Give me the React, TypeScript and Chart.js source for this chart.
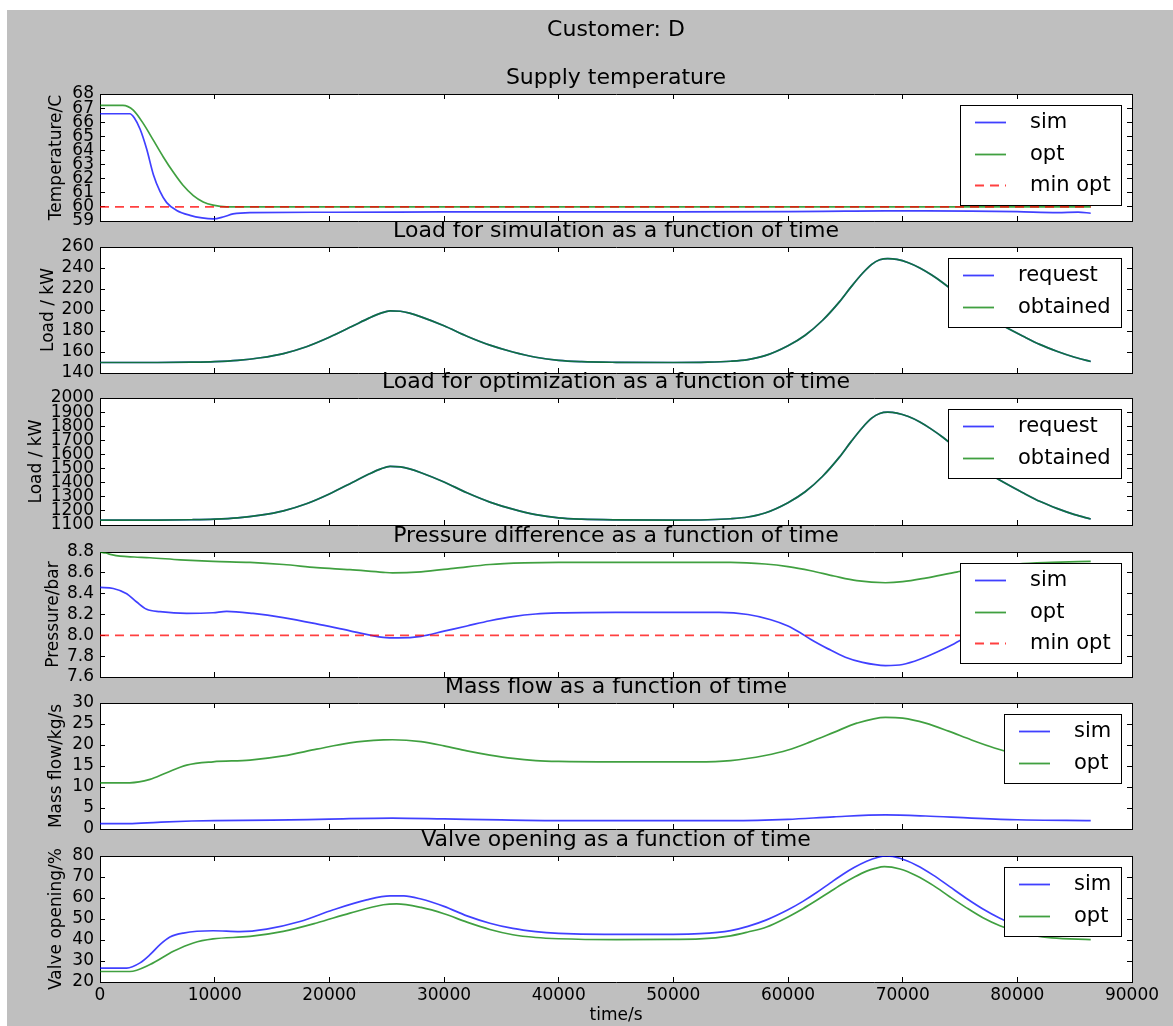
import React, { useEffect, useRef } from "react";
import { Chart, registerables } from "chart.js";

Chart.register(...registerables);

const FONT = "'DejaVu Sans', 'Bitstream Vera Sans', sans-serif";
const BLUE = "rgba(0, 0, 255, 0.75)";
const GREEN = "rgba(0, 128, 0, 0.75)";
const RED = "rgba(255, 0, 0, 0.75)";

// Shared time axis (seconds)
const timeTicks = [0, 10000, 20000, 30000, 40000, 50000, 60000, 70000, 80000, 90000];

// Supply temperature
const tempTicks = [59, 60, 61, 62, 63, 64, 65, 66, 67, 68];
const tempSimTime = [0, 2600, 3000, 3500, 4070, 4650, 5230, 5815, 6690, 7850, 8900, 9860, 10800, 11600, 13080, 20000, 30000, 40000, 50000, 60000, 65000, 68500, 72000, 76000, 80000, 83500, 85300, 86400];
const tempSim = [66.6, 66.6, 66.3, 65.5, 64.1, 62.3, 61.1, 60.3, 59.75, 59.4, 59.22, 59.15, 59.3, 59.5, 59.6, 59.62, 59.64, 59.65, 59.65, 59.66, 59.7, 59.72, 59.72, 59.7, 59.66, 59.6, 59.63, 59.55];
const tempOptTime = [0, 2000, 2900, 3780, 4650, 5520, 6400, 7220, 8140, 9000, 9860, 11050, 86400];
const tempOpt = [67.2, 67.2, 66.86, 65.9, 64.73, 63.54, 62.45, 61.55, 60.8, 60.35, 60.12, 60.0, 60.0];
const tempMinTime = [0, 86400];
const tempMin = [60, 60];

// Load profiles (simulation and optimization share the same time grid)
const loadTime = [0, 5000, 8000, 10000, 12000, 14000, 16000, 18000, 20000, 22000, 23500, 24500, 25300, 26200, 27000, 28000, 30000, 32000, 34000, 36000, 38000, 40000, 42000, 45000, 50000, 53000, 55000, 56500, 58000, 60000, 61500, 63000, 64500, 65500, 66500, 67300, 68000, 68700, 69500, 70500, 71500, 72500, 73500, 74500, 75500, 76500, 77500, 79000, 80500, 82000, 83500, 85000, 86400];
const loadSimTicks = [140, 160, 180, 200, 220, 240, 260];
const loadSimRequest = [150, 150, 150.3, 150.8, 152, 154.5, 158.5, 165, 174, 184.5, 192.5, 197, 199.2, 198.8, 197, 193.5, 185, 175, 166.5, 160, 155, 152, 150.8, 150.2, 150, 150.3, 151.2, 152.8, 156.5, 166, 176, 190, 208, 222, 235, 243.5, 247.8, 249, 248.2, 245, 240, 233.5, 226, 217.5, 209, 200.5, 193, 183.5, 175, 167, 160.5, 155, 151];
const loadSimObtained = [150, 150, 150.3, 150.8, 152, 154.5, 158.5, 165, 174, 184.5, 192.5, 197, 199.2, 198.8, 197, 193.5, 185, 175, 166.5, 160, 155, 152, 150.8, 150.2, 150, 150.3, 151.2, 152.8, 156.5, 166, 176, 190, 208, 222, 235, 243.5, 247.8, 249, 248.2, 245, 240, 233.5, 226, 217.5, 209, 200.5, 193, 183.5, 175, 167, 160.5, 155, 151];
const loadOptTicks = [1100, 1200, 1300, 1400, 1500, 1600, 1700, 1800, 1900, 2000];
const loadOptRequest = [1135, 1135, 1137.3, 1141.2, 1150.4, 1169.7, 1200.6, 1250.8, 1320.3, 1401.3, 1463.1, 1497.8, 1514.8, 1511.7, 1497.8, 1470.8, 1405.2, 1328, 1262.4, 1212.2, 1173.6, 1150.4, 1141.2, 1136.5, 1135, 1137.3, 1144.3, 1156.6, 1185.2, 1258.5, 1335.7, 1443.8, 1582.8, 1690.8, 1791.2, 1856.8, 1890, 1899.3, 1893.1, 1868.4, 1829.8, 1779.6, 1721.7, 1656.1, 1590.5, 1524.9, 1467, 1393.6, 1328, 1266.2, 1216.1, 1173.6, 1142.7];
const loadOptObtained = [1135, 1135, 1137.3, 1141.2, 1150.4, 1169.7, 1200.6, 1250.8, 1320.3, 1401.3, 1463.1, 1497.8, 1514.8, 1511.7, 1497.8, 1470.8, 1405.2, 1328, 1262.4, 1212.2, 1173.6, 1150.4, 1141.2, 1136.5, 1135, 1137.3, 1144.3, 1156.6, 1185.2, 1258.5, 1335.7, 1443.8, 1582.8, 1690.8, 1791.2, 1856.8, 1890, 1899.3, 1893.1, 1868.4, 1829.8, 1779.6, 1721.7, 1656.1, 1590.5, 1524.9, 1467, 1393.6, 1328, 1266.2, 1216.1, 1173.6, 1142.7];

// Pressure difference
const pressTicks = [7.6, 7.8, 8.0, 8.2, 8.4, 8.6, 8.8];
const pressSimTime = [0, 1160, 2330, 3200, 4070, 5230, 7560, 9860, 11050, 13340, 15980, 18890, 21800, 24700, 26000, 28000, 30000, 32000, 34000, 36000, 38000, 40000, 45000, 54000, 56500, 58500, 60000, 61000, 62000, 63500, 65000, 66500, 68500, 70000, 71500, 73000, 74500, 75500, 77000, 79000, 81000, 84000, 86400];
const pressSim = [8.46, 8.45, 8.4, 8.32, 8.25, 8.227, 8.21, 8.217, 8.23, 8.21, 8.17, 8.11, 8.043, 7.98, 7.975, 7.99, 8.04, 8.09, 8.14, 8.18, 8.205, 8.215, 8.22, 8.22, 8.2, 8.15, 8.09, 8.03, 7.96, 7.87, 7.79, 7.74, 7.71, 7.72, 7.77, 7.84, 7.92, 7.98, 8.06, 8.13, 8.18, 8.21, 8.22];
const pressOptTime = [0, 500, 1000, 1750, 3000, 4360, 7000, 9860, 13080, 16000, 18900, 21800, 24700, 25500, 28000, 31000, 34000, 37000, 40000, 55000, 58000, 60000, 62000, 64000, 66000, 68500, 70000, 72000, 74800, 77000, 80000, 83000, 86400];
const pressOpt = [8.8, 8.79, 8.775, 8.76, 8.752, 8.745, 8.725, 8.71, 8.7, 8.68, 8.65, 8.63, 8.605, 8.6, 8.61, 8.645, 8.68, 8.695, 8.7, 8.7, 8.685, 8.66, 8.62, 8.57, 8.525, 8.505, 8.515, 8.55, 8.61, 8.65, 8.685, 8.7, 8.71];
const pressMinTime = [0, 86400];
const pressMin = [8.0, 8.0];

// Mass flow
const flowTicks = [0, 5, 10, 15, 20, 25, 30];
const flowSimTime = [0, 2500, 5000, 8000, 10000, 15000, 20000, 25500, 30000, 35000, 40000, 55000, 60000, 64000, 68500, 72000, 76000, 80000, 86400];
const flowSim = [1.3, 1.3, 1.6, 1.9, 2.0, 2.1, 2.35, 2.6, 2.4, 2.15, 2.0, 2.0, 2.3, 2.9, 3.35, 3.1, 2.6, 2.2, 2.0];
const flowOptTime = [0, 2600, 4360, 5810, 7560, 9860, 13080, 15980, 18890, 21800, 24710, 25500, 28000, 30000, 32000, 34000, 36000, 38000, 40000, 45000, 52000, 55000, 58000, 60000, 62000, 64000, 66000, 68500, 70000, 72000, 74000, 76000, 78000, 80000, 82000, 84000, 86400];
const flowOpt = [11.0, 11.0, 11.8, 13.4, 15.2, 16.0, 16.4, 17.4, 19.0, 20.5, 21.2, 21.25, 20.8, 19.8, 18.6, 17.6, 16.8, 16.3, 16.1, 16.0, 16.0, 16.3, 17.5, 18.8, 20.8, 23.0, 25.2, 26.6, 26.4, 25.2, 23.3, 21.2, 19.3, 17.8, 16.8, 16.3, 16.1];

// Valve opening
const valveTicks = [20, 30, 40, 50, 60, 70, 80];
const valveSimTime = [0, 2330, 3490, 4360, 5230, 6100, 7270, 9860, 12200, 14530, 17440, 20350, 23250, 25300, 26500, 28000, 30000, 32000, 34000, 36000, 38000, 40000, 44000, 50000, 52300, 55000, 56500, 58130, 60000, 61300, 62500, 63700, 64800, 65800, 66860, 67800, 68600, 69760, 71200, 72660, 74100, 75570, 77000, 78480, 80000, 82000, 84000, 86400];
const valveSim = [26.6, 26.6, 29.1, 33.0, 37.8, 41.4, 43.3, 44.4, 44.0, 45.2, 48.8, 54.4, 59.1, 61.0, 61.0, 59.5, 56, 51.5, 48, 45.5, 44, 43.2, 42.7, 42.7, 43.0, 44.5, 46.5, 49.6, 54.4, 58.4, 62.6, 67.2, 71.3, 74.6, 77.5, 79.3, 80.0, 78.9, 75.6, 70.9, 65.4, 59.8, 54.8, 50.4, 46.9, 44.2, 43.0, 42.5];
const valveOptTime = [0, 2600, 4360, 6400, 8140, 9860, 13080, 15980, 18890, 21800, 24710, 25870, 28000, 30000, 32000, 34000, 36000, 38000, 40000, 45000, 50000, 52300, 55000, 56500, 58130, 60000, 61300, 62500, 63700, 64800, 65800, 66860, 67600, 68400, 69760, 71200, 72660, 74100, 75570, 77000, 78480, 80000, 81390, 83000, 86400];
const valveOpt = [25.0, 25.0, 28.3, 34.6, 38.6, 40.5, 41.7, 44.1, 48.1, 52.8, 56.8, 57.2, 55.5, 52.5, 48.5, 45, 42.5, 41.2, 40.6, 40.2, 40.3, 40.5, 42, 43.8, 46.2, 51.0, 54.9, 58.9, 63.1, 66.9, 70.0, 72.8, 74.1, 74.9, 73.8, 70.6, 66.0, 60.6, 55.3, 50.6, 46.8, 44.0, 42.2, 41.0, 40.2];

type Series = { label: string; t: number[]; v: number[]; color: string; dash?: boolean };
type PanelSpec = {
  title: string;
  suptitle?: string;
  yLabel: string;
  yLabelPad: number;
  yTicks: number[];
  decimals: number;
  series: Series[];
  showX: boolean;
};

const panels: PanelSpec[] = [
  {
    suptitle: "Customer: D",
    title: "Supply temperature",
    yLabel: "Temperature/C",
    yLabelPad: 39,
    yTicks: tempTicks,
    decimals: 0,
    showX: false,
    series: [
      { label: "sim", t: tempSimTime, v: tempSim, color: BLUE },
      { label: "opt", t: tempOptTime, v: tempOpt, color: GREEN },
      { label: "min opt", t: tempMinTime, v: tempMin, color: RED, dash: true },
    ],
  },
  {
    title: "Load for simulation as a function of time",
    yLabel: "Load / kW",
    yLabelPad: 31,
    yTicks: loadSimTicks,
    decimals: 0,
    showX: false,
    series: [
      { label: "request", t: loadTime, v: loadSimRequest, color: BLUE },
      { label: "obtained", t: loadTime, v: loadSimObtained, color: GREEN },
    ],
  },
  {
    title: "Load for optimization as a function of time",
    yLabel: "Load / kW",
    yLabelPad: 19,
    yTicks: loadOptTicks,
    decimals: 0,
    showX: false,
    series: [
      { label: "request", t: loadTime, v: loadOptRequest, color: BLUE },
      { label: "obtained", t: loadTime, v: loadOptObtained, color: GREEN },
    ],
  },
  {
    title: "Pressure difference as a function of time",
    yLabel: "Pressure/bar",
    yLabelPad: 36,
    yTicks: pressTicks,
    decimals: 1,
    showX: false,
    series: [
      { label: "sim", t: pressSimTime, v: pressSim, color: BLUE },
      { label: "opt", t: pressOptTime, v: pressOpt, color: GREEN },
      { label: "min opt", t: pressMinTime, v: pressMin, color: RED, dash: true },
    ],
  },
  {
    title: "Mass flow as a function of time",
    yLabel: "Mass flow/kg/s",
    yLabelPad: 39,
    yTicks: flowTicks,
    decimals: 0,
    showX: false,
    series: [
      { label: "sim", t: flowSimTime, v: flowSim, color: BLUE },
      { label: "opt", t: flowOptTime, v: flowOpt, color: GREEN },
    ],
  },
  {
    title: "Valve opening as a function of time",
    yLabel: "Valve opening/%",
    yLabelPad: 39,
    yTicks: valveTicks,
    decimals: 0,
    showX: true,
    series: [
      { label: "sim", t: valveSimTime, v: valveSim, color: BLUE },
      { label: "opt", t: valveOptTime, v: valveOpt, color: GREEN },
    ],
  },
];

// Plot-area rows inside the grey figure (figure pixels)
const PLOT_TOP = [84, 237, 388, 542, 693, 846];
const PLOT_BOTTOM = [211, 363, 515, 667, 819, 972];
const FIG_W = 1166;
const FIG_H = 1016;
const TITLE_BLOCK = 32;
const X_AXIS_H = 44;
// room below hidden x axes: must cover the y tick label overhang (half line + tick padding)
const X_AXIS_HIDDEN_H = 22;

const whiteArea = {
  id: "whiteArea",
  beforeDraw(chart: any) {
    const { ctx, chartArea } = chart;
    ctx.save();
    ctx.fillStyle = "#ffffff";
    ctx.fillRect(chartArea.left, chartArea.top, chartArea.right - chartArea.left, chartArea.bottom - chartArea.top);
    ctx.restore();
  },
};

// Boxed legend in the upper-right corner of the axes
const boxLegend = {
  id: "boxLegend",
  afterDraw(chart: any) {
    const { ctx, chartArea } = chart;
    const sets = chart.data.datasets;
    ctx.save();
    ctx.font = `21px ${FONT}`;
    const maxW = Math.max(...sets.map((d: any) => ctx.measureText(d.label).width));
    const w = Math.round(70 + maxW + 10);
    const h = Math.round(17 + 31.5 * (sets.length - 1) + 20);
    const right = Math.round(chartArea.right) - 11;
    const left = right - w;
    const top = Math.round(chartArea.top) + 11;
    ctx.fillStyle = "#ffffff";
    ctx.fillRect(left, top, w, h);
    ctx.strokeStyle = "#000000";
    ctx.lineWidth = 1;
    ctx.strokeRect(left + 0.5, top + 0.5, w, h);
    sets.forEach((d: any, k: number) => {
      const y = Math.round(top + 17 + 31.5 * k) + 0.5;
      ctx.strokeStyle = d.borderColor;
      ctx.lineWidth = 1.8;
      ctx.setLineDash(d.borderDash || []);
      ctx.beginPath();
      ctx.moveTo(left + 15, y);
      ctx.lineTo(left + 46, y);
      ctx.stroke();
      ctx.setLineDash([]);
      ctx.fillStyle = "#000000";
      ctx.textAlign = "left";
      ctx.textBaseline = "middle";
      ctx.fillText(d.label, left + 70, y);
    });
    ctx.restore();
  },
};

function buildConfig(p: PanelSpec): any {
  const tickFont = { family: FONT, size: 17 };
  const titleFont = { family: FONT, size: 22, weight: "normal" as const, lineHeight: 1 };
  const edgeGrid = { drawOnChartArea: false, tickLength: -5, color: "#000000", lineWidth: 1 };
  const edgeBorder = { display: true, color: "#000000", width: 1 };
  const yMin = p.yTicks[0];
  const yMax = p.yTicks[p.yTicks.length - 1];
  const fmt = (v: number) => (p.decimals > 0 ? Number(v).toFixed(p.decimals) : String(v));
  const n = p.series.length;

  const plugins: any = {
    legend: { display: false },
    tooltip: { enabled: false },
    title: p.suptitle
      ? { display: true, text: p.suptitle, color: "#000", font: titleFont, fullSize: false, padding: { top: 9, bottom: 0 } }
      : { display: true, text: p.title, color: "#000", font: titleFont, fullSize: false, padding: { top: 5.5, bottom: 4.5 } },
    subtitle: p.suptitle
      ? { display: true, text: p.title, color: "#000", font: titleFont, fullSize: false, padding: { top: 26, bottom: 5 } }
      : { display: false },
  };

  return {
    type: "line",
    data: {
      datasets: p.series.map((s, i) => ({
        label: s.label,
        data: s.t.map((t, k) => ({ x: t, y: s.v[k] })),
        borderColor: s.color,
        borderWidth: 1.7,
        borderDash: s.dash ? [9, 6] : [],
        pointRadius: 0,
        fill: false,
        cubicInterpolationMode: "monotone",
        // later series are painted over earlier ones
        order: n - i,
      })),
    },
    options: {
      responsive: false,
      maintainAspectRatio: false,
      animation: false,
      events: [],
      layout: { padding: 0 },
      plugins,
      scales: {
        x: {
          type: "linear",
          axis: "x",
          position: "bottom",
          min: 0,
          max: 90000,
          afterBuildTicks: (s: any) => {
            s.ticks = timeTicks.map((v) => ({ value: v }));
          },
          afterFit: (s: any) => {
            s.height = p.showX ? X_AXIS_H : X_AXIS_HIDDEN_H;
          },
          ticks: {
            display: p.showX,
            autoSkip: false,
            maxRotation: 0,
            padding: 8,
            color: "#000",
            font: tickFont,
            callback: (v: number) => String(v),
          },
          grid: edgeGrid,
          border: edgeBorder,
          title: {
            display: p.showX,
            text: "time/s",
            color: "#000",
            font: tickFont,
            padding: { top: 0, bottom: 0 },
          },
        },
        xTop: {
          type: "linear",
          axis: "x",
          position: "top",
          min: 0,
          max: 90000,
          afterBuildTicks: (s: any) => {
            s.ticks = timeTicks.map((v) => ({ value: v }));
          },
          afterFit: (s: any) => {
            s.height = 0;
          },
          ticks: { display: false },
          grid: edgeGrid,
          border: edgeBorder,
        },
        y: {
          type: "linear",
          axis: "y",
          position: "left",
          min: yMin,
          max: yMax,
          afterBuildTicks: (s: any) => {
            s.ticks = p.yTicks.map((v) => ({ value: v }));
          },
          afterFit: (s: any) => {
            s.width = 93;
          },
          ticks: {
            autoSkip: false,
            padding: 11,
            color: "#000",
            font: tickFont,
            callback: (v: number) => fmt(v),
          },
          grid: edgeGrid,
          border: edgeBorder,
          title: {
            display: true,
            text: p.yLabel,
            color: "#000",
            font: tickFont,
            padding: { top: p.yLabelPad, bottom: 0 },
          },
        },
        yRight: {
          type: "linear",
          axis: "y",
          position: "right",
          min: yMin,
          max: yMax,
          afterBuildTicks: (s: any) => {
            s.ticks = p.yTicks.map((v) => ({ value: v }));
          },
          afterFit: (s: any) => {
            s.width = 41;
          },
          ticks: { display: false },
          grid: edgeGrid,
          border: edgeBorder,
        },
      },
    },
    plugins: [whiteArea, boxLegend],
  };
}

function Panel({ spec, top, height }: { spec: PanelSpec; top: number; height: number }) {
  const ref = useRef<HTMLCanvasElement | null>(null);
  useEffect(() => {
    if (!ref.current) return;
    const chart = new Chart(ref.current, buildConfig(spec));
    return () => chart.destroy();
  }, [spec]);
  return (
    <canvas
      ref={ref}
      width={FIG_W}
      height={height}
      style={{ position: "absolute", left: 0, top, width: FIG_W, height, display: "block" }}
    />
  );
}

export default function App() {
  return (
    <div
      style={{
        position: "absolute",
        left: 7,
        top: 10,
        width: FIG_W,
        height: FIG_H,
        background: "#bfbfbf",
        overflow: "hidden",
      }}
    >
      {panels.map((p, i) => {
        const top = i === 0 ? 0 : PLOT_TOP[i] - TITLE_BLOCK;
        const bottom = p.showX ? FIG_H : PLOT_BOTTOM[i] + X_AXIS_HIDDEN_H;
        return <Panel key={i} spec={p} top={top} height={bottom - top} />;
      })}
    </div>
  );
}
